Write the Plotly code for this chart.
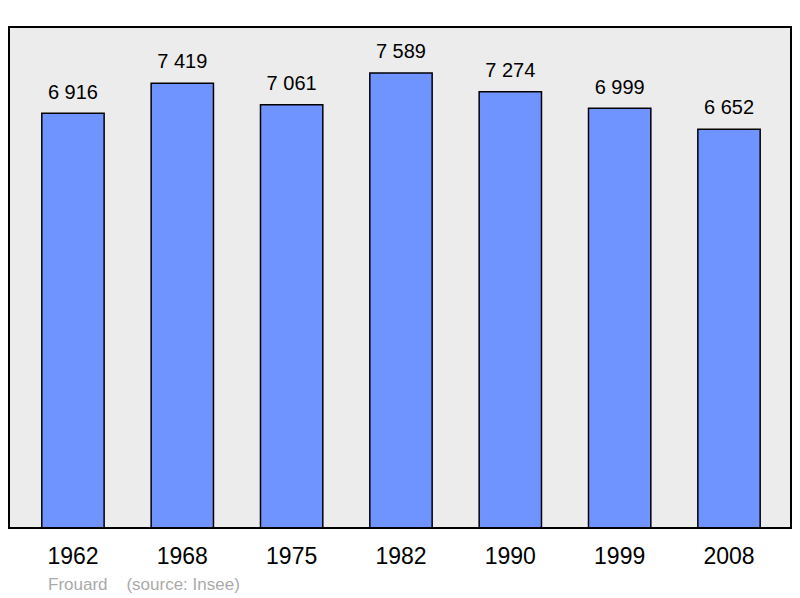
import plotly.graph_objects as go

# Données de population
annees = ["1962", "1968", "1975", "1982", "1990", "1999", "2008"]
population = [6916, 7419, 7061, 7589, 7274, 6999, 6652]
commune = "Frouard"
source = "(source: Insee)"

etiquettes = [f"{v:,}".replace(",", " ") for v in population]

fig = go.Figure()

fig.add_trace(go.Bar(
    x=annees,
    y=population,
    marker=dict(color="#7094ff", line=dict(color="black", width=1.5)),
    width=0.57,
    hoverinfo="skip"
))

# Valeurs au-dessus des barres (marqueur invisible pour décaler le texte)
fig.add_trace(go.Scatter(
    x=annees,
    y=population,
    mode="markers+text",
    text=etiquettes,
    textposition="top center",
    textfont=dict(size=20, color="black"),
    marker=dict(size=14, color="rgba(0,0,0,0)"),
    cliponaxis=False,
    hoverinfo="skip"
))

fig.update_layout(
    width=800,
    height=598,
    margin=dict(l=9, r=9, t=27, b=70),
    paper_bgcolor="white",
    plot_bgcolor="#ececec",
    font=dict(family="Liberation Sans, Arial, sans-serif", color="black"),
    showlegend=False,
    xaxis=dict(
        type="category",
        range=[-0.585, 6.567],
        tickfont=dict(size=23),
        ticks="outside",
        ticklen=7,
        tickcolor="rgba(0,0,0,0)",
        showgrid=False,
        zeroline=False,
        showline=False
    ),
    yaxis=dict(
        range=[0, 8356],
        visible=False,
        showgrid=False
    )
)

# Cadre du graphique
fig.add_shape(
    type="rect", xref="paper", yref="paper",
    x0=0, x1=1, y0=0, y1=1,
    line=dict(color="black", width=2),
    layer="above"
)

# Source
fig.add_annotation(
    text=commune + "    " + source,
    xref="paper", yref="paper",
    x=0.047, y=-0.112,
    xanchor="left", yanchor="middle",
    showarrow=False,
    font=dict(size=17, color="#aaaaaa")
)

# enlever la marge par défaut de la page
fig.write_html("out.html", config={"displayModeBar": False},
               post_script="document.body.style.margin='0';")
